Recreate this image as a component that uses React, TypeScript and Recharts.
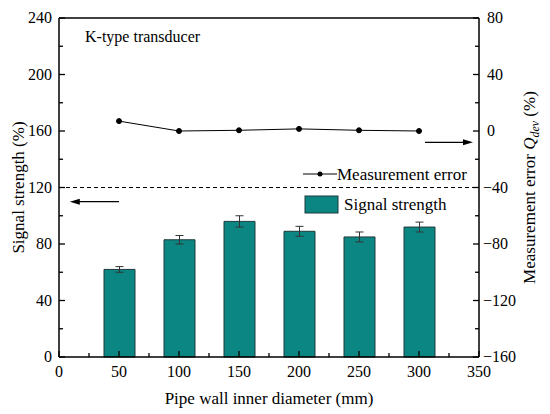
import {
  ComposedChart,
  Bar,
  Line,
  XAxis,
  YAxis,
  ErrorBar,
  ReferenceLine,
  Label,
} from "recharts";

const diameters = [50, 100, 150, 200, 250, 300];
const signalStrength = [62, 83, 96, 89, 85, 92];
const signalErr = [2, 3, 4, 3.5, 3.5, 3.5];
const measurementError = [7, 0, 0.5, 1.5, 0.5, 0];

const xTicks = [0, 25, 50, 75, 100, 125, 150, 175, 200, 225, 250, 275, 300, 325, 350];
const leftTicks = [0, 20, 40, 60, 80, 100, 120, 140, 160, 180, 200, 220, 240];
const rightTicks = [-160, -140, -120, -100, -80, -60, -40, -20, 0, 20, 40, 60, 80];

const FONT = "'Liberation Serif', 'Times New Roman', serif";
const TEAL = "#0b8682";

const data = diameters.map((d, i) => ({
  d,
  signal: signalStrength[i],
  sErr: signalErr[i],
  mErr: measurementError[i],
}));

const fmt = (v: number) => (v < 0 ? "\u2212" + Math.abs(v) : String(v));

function XTick(props: any) {
  const { x, y, payload } = props;
  const major = payload.value % 50 === 0;
  return (
    <g>
      <line x1={x} x2={x} y1={y} y2={y - (major ? 6 : 4)} stroke="#000" strokeWidth={1.3} />
      {major && (
        <text x={x} y={y + 20} textAnchor="middle" fontFamily={FONT} fontSize={16} fill="#000">
          {payload.value}
        </text>
      )}
    </g>
  );
}

function LeftTick(props: any) {
  const { x, y, payload } = props;
  const major = payload.value % 40 === 0;
  return (
    <g>
      <line x1={x} x2={x + (major ? 6 : 4)} y1={y} y2={y} stroke="#000" strokeWidth={1.3} />
      {major && (
        <text x={x - 7} y={y + 5} textAnchor="end" fontFamily={FONT} fontSize={16} fill="#000">
          {payload.value}
        </text>
      )}
    </g>
  );
}

function RightTick(props: any) {
  const { x, y, payload } = props;
  const major = payload.value % 40 === 0;
  return (
    <g>
      <line x1={x} x2={x - (major ? 6 : 4)} y1={y} y2={y} stroke="#000" strokeWidth={1.3} />
      {major && (
        <text
          x={x + (payload.value < 0 ? 4 : 8)}
          y={y + 5}
          textAnchor="start"
          fontFamily={FONT}
          fontSize={16}
          fill="#000"
        >
          {fmt(payload.value)}
        </text>
      )}
    </g>
  );
}

function Arrow(props: any) {
  const { x1, y1, x2, y2 } = props;
  const dir = x2 > x1 ? 1 : -1;
  return (
    <g>
      <line x1={x1} y1={y1} x2={x2 - dir * 8} y2={y2} stroke="#000" strokeWidth={1.2} />
      <polygon
        points={`${x2},${y2} ${x2 - dir * 10},${y2 - 3} ${x2 - dir * 10},${y2 + 3}`}
        fill="#000"
      />
    </g>
  );
}

function LeftLabel(props: any) {
  const { viewBox } = props;
  const cx = 24;
  const cy = viewBox.y + viewBox.height / 2;
  return (
    <text
      x={cx}
      y={cy}
      transform={`rotate(-90 ${cx} ${cy})`}
      textAnchor="middle"
      fontFamily={FONT}
      fontSize={17}
      fill="#000"
    >
      Signal strength (%)
    </text>
  );
}

function RightLabel(props: any) {
  const { viewBox } = props;
  const cx = viewBox.x + viewBox.width - 15;
  const cy = viewBox.y + viewBox.height / 2;
  return (
    <text
      x={cx}
      y={cy}
      transform={`rotate(-90 ${cx} ${cy})`}
      textAnchor="middle"
      fontFamily={FONT}
      fontSize={17}
      fill="#000"
    >
      Measurement error <tspan fontStyle="italic">Q</tspan>
      <tspan fontStyle="italic" fontSize={12} dy={4}>dev</tspan>
      <tspan dy={-4}> (%)</tspan>
    </text>
  );
}

export default function App() {
  return (
    <div style={{ position: "absolute", left: 0, top: 0, width: 550, height: 414, background: "#fff" }}>
      <ComposedChart width={550} height={414} data={data} margin={{ top: 18, right: 0, bottom: 0, left: 0 }}>
        <XAxis
          dataKey="d"
          type="number"
          domain={[0, 350]}
          ticks={xTicks}
          interval={0}
          height={57}
          tickLine={false}
          tickSize={0}
          tickMargin={0}
          tick={<XTick />}
          axisLine={{ stroke: "#000", strokeWidth: 1.5 }}
        >
          <Label
            value="Pipe wall inner diameter (mm)"
            position="insideBottom"
            offset={10}
            style={{ fontFamily: FONT, fontSize: 17, fill: "#000" }}
          />
        </XAxis>
        <YAxis
          yAxisId="left"
          domain={[0, 240]}
          ticks={leftTicks}
          interval={0}
          width={59}
          tickLine={false}
          tickSize={0}
          tickMargin={0}
          tick={<LeftTick />}
          axisLine={{ stroke: "#000", strokeWidth: 1.5 }}
        >
          <Label content={<LeftLabel />} />
        </YAxis>
        <YAxis
          yAxisId="right"
          orientation="right"
          domain={[-160, 80]}
          ticks={rightTicks}
          interval={0}
          width={71}
          tickLine={false}
          tickSize={0}
          tickMargin={0}
          tick={<RightTick />}
          axisLine={{ stroke: "#000", strokeWidth: 1.5 }}
        >
          <Label content={<RightLabel />} />
        </YAxis>
        <ReferenceLine yAxisId="left" y={240} stroke="#000" strokeWidth={1.5} />
        <ReferenceLine yAxisId="left" y={120} stroke="#000" strokeDasharray="4 3" strokeWidth={1} />
        <ReferenceLine
          yAxisId="left"
          segment={[{ x: 50, y: 110 }, { x: 9, y: 110 }]}
          shape={<Arrow />}
        />
        <ReferenceLine
          yAxisId="right"
          segment={[{ x: 305, y: -8 }, { x: 345, y: -8 }]}
          shape={<Arrow />}
        />
        <Bar
          yAxisId="left"
          dataKey="signal"
          barSize={31}
          fill={TEAL}
          stroke="#1d3b3a"
          strokeWidth={1}
          isAnimationActive={false}
        >
          <ErrorBar dataKey="sErr" width={4} stroke="#333" strokeWidth={1} direction="y" />
        </Bar>
        <Line
          yAxisId="right"
          dataKey="mErr"
          stroke="#000"
          strokeWidth={1}
          dot={{ r: 2.5, fill: "#000", stroke: "#000" }}
          activeDot={false}
          isAnimationActive={false}
        />
      </ComposedChart>
      <div style={{ position: "absolute", left: 303, top: 164 }}>
        <svg width={170} height={52} style={{ overflow: "visible", display: "block" }}>
          <line x1={0} x2={34} y1={10} y2={10} stroke="#000" strokeWidth={1} />
          <circle cx={17} cy={10} r={2.5} fill="#000" />
          <text x={34} y={16} fontFamily={FONT} fontSize={17} fill="#000">
            Measurement error
          </text>
          <rect x={2} y={32} width={33} height={17} fill={TEAL} stroke="#1d3b3a" strokeWidth={1} />
          <text x={41} y={46} fontFamily={FONT} fontSize={17} fill="#000">
            Signal strength
          </text>
        </svg>
      </div>
      <svg style={{ position: "absolute", left: 0, top: 0, overflow: "visible" }} width={1} height={1}>
        <text x={85} y={42} fontFamily={FONT} fontSize={16} fill="#000">
          K-type transducer
        </text>
      </svg>
    </div>
  );
}
